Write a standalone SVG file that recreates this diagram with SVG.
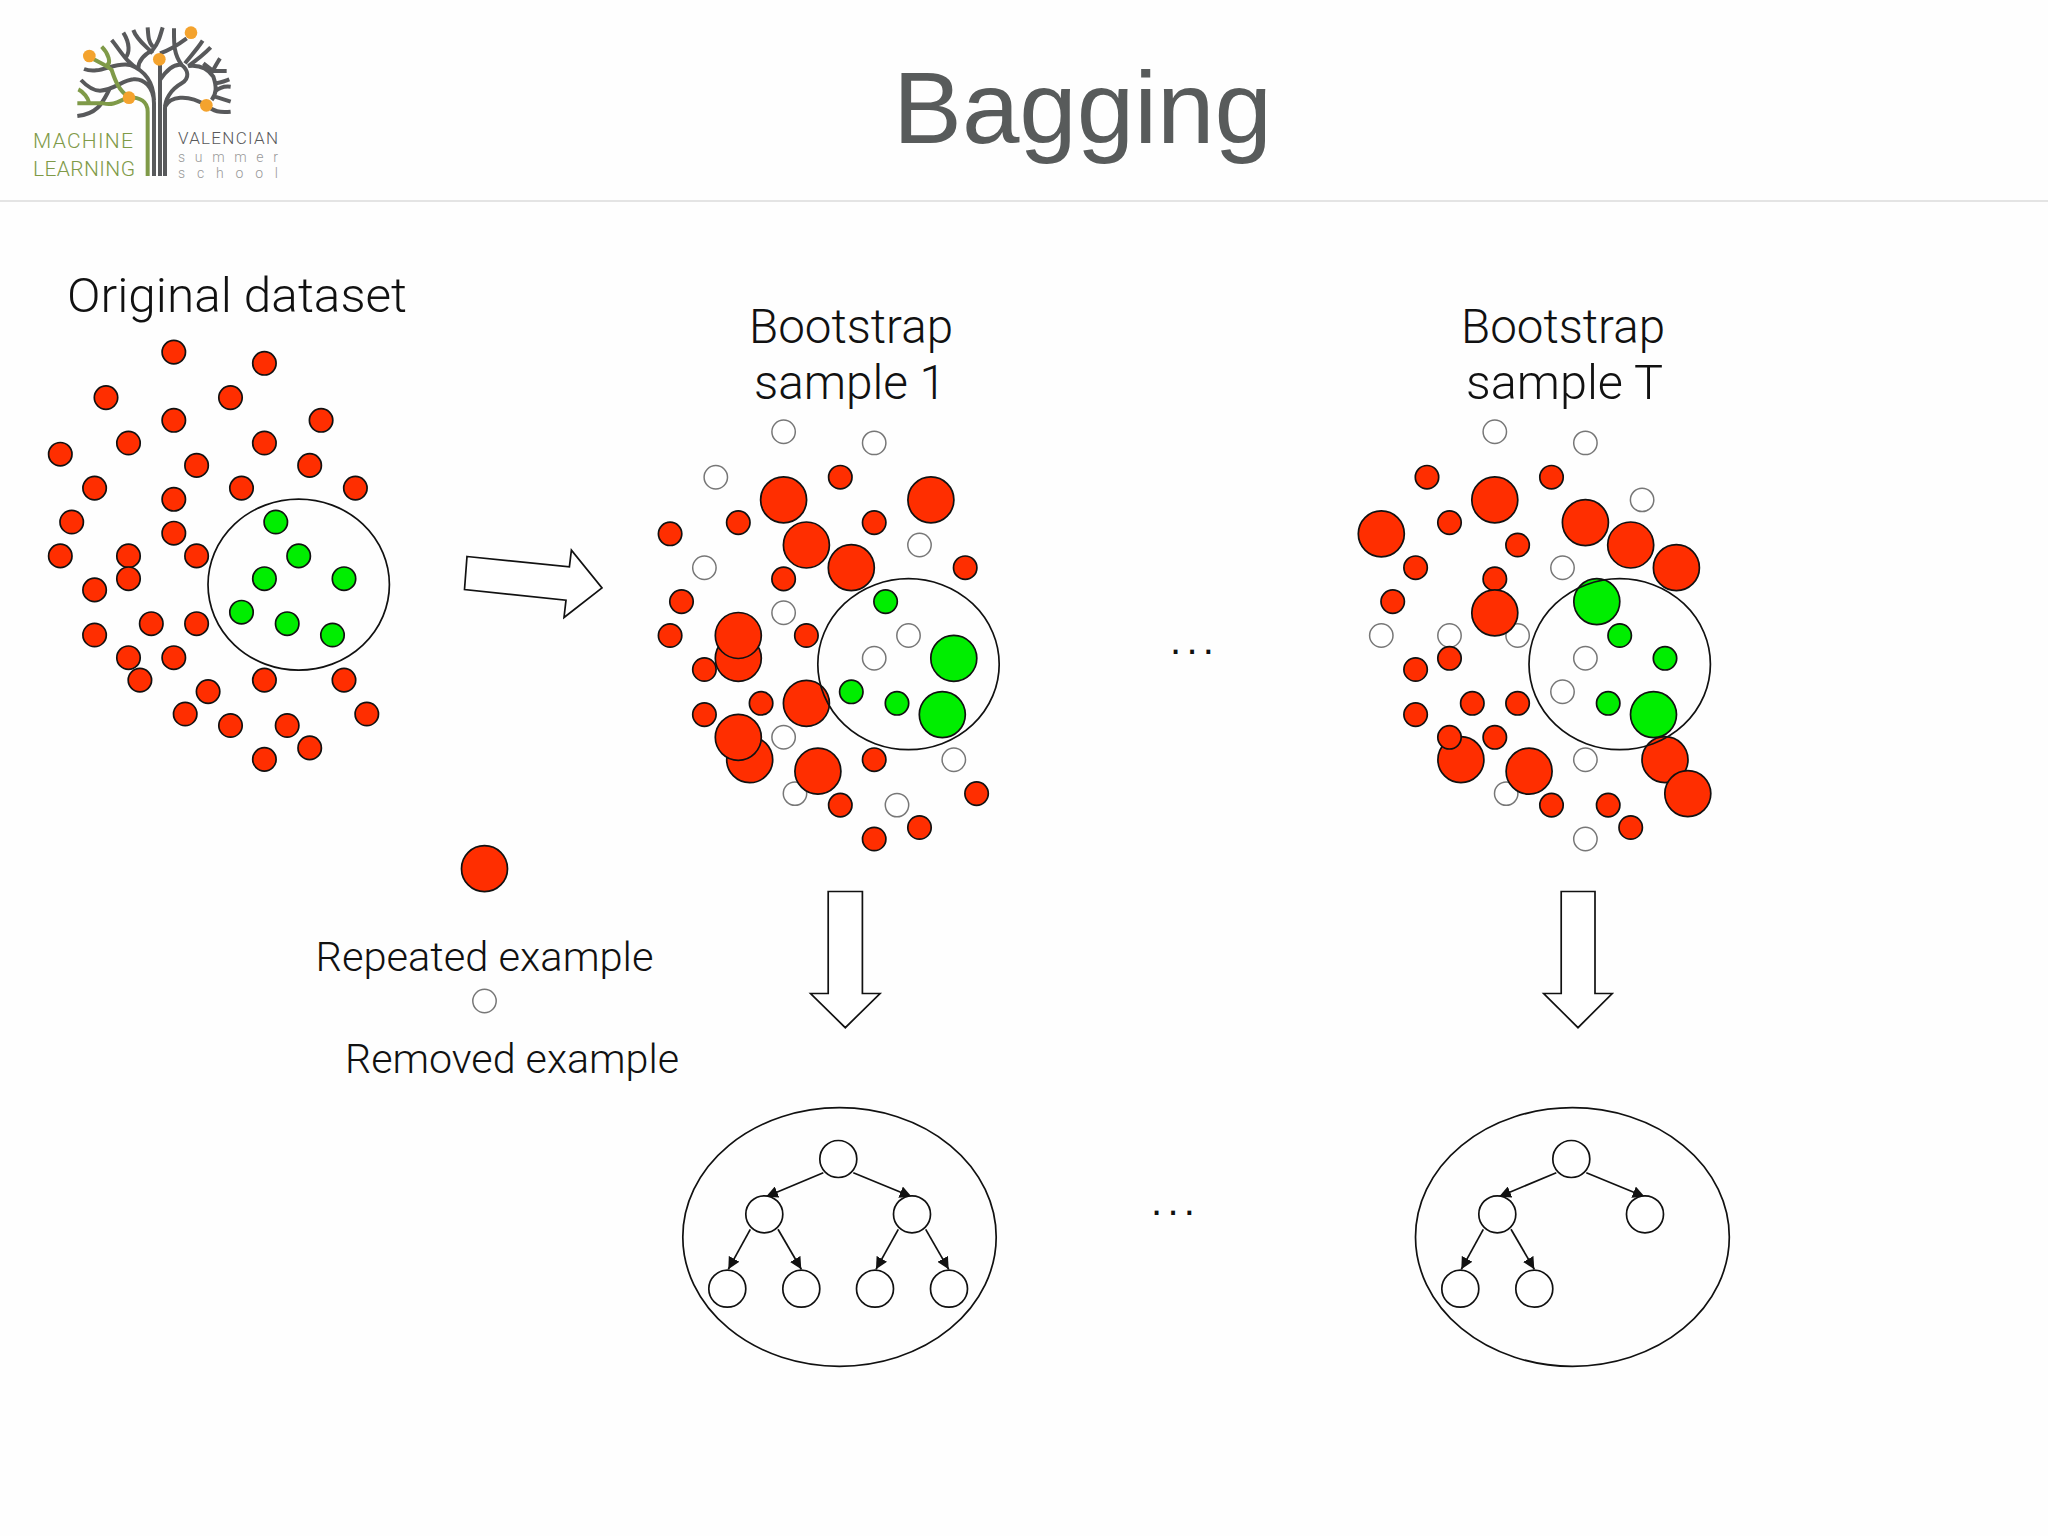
<svg xmlns="http://www.w3.org/2000/svg" width="2048" height="1536" viewBox="0 0 2048 1536">
<style>
text{font-family:"Roboto","Liberation Sans",sans-serif;font-weight:300;fill:#111}
.s{fill:#ff2e00;stroke:#111;stroke-width:1.7}
.g{fill:#00ee00;stroke:#111;stroke-width:1.7}
.w{fill:#fff;stroke:#777;stroke-width:1.5}
.ring{fill:none;stroke:#111;stroke-width:1.7}
.arrow{fill:#fff;stroke:#111;stroke-width:1.7;stroke-linejoin:miter}
.n{fill:#fff;stroke:#111;stroke-width:1.7}
.e{stroke:#111;stroke-width:1.7;fill:none;marker-end:url(#ah)}
.lb{fill:none;stroke:#58595b;stroke-width:12}
.lg{fill:none;stroke:#7f9a48;stroke-width:12}
.lo{fill:#f4a32e}
.big{font-size:48px}
.mid{font-size:40px}
.dots{font-family:"Liberation Sans",sans-serif;font-weight:400;font-size:40px;letter-spacing:5.3px}
</style>
<defs>
<marker id="ah" markerUnits="userSpaceOnUse" markerWidth="13" markerHeight="12" refX="12" refY="6" orient="auto"><path d="M0,0L12,6L0,12Z" fill="#111"/></marker>
</defs>
<rect width="2048" height="1536" fill="#fefefe"/>
<g id="logo">
<g transform="scale(.33333)">
<path class="lb" d="M462,528V310C462,260 430,235 400,238C370,240 340,270 300,272C280,272 260,258 243,240M330,265C310,300 300,340 232,348M462,300C460,240 430,210 390,195C340,185 300,225 252,207M335,120C360,150 380,190 420,210M370,98C390,130 390,160 375,175"/>
<path class="lb" d="M480,528V195M495,528V325C495,300 510,270 545,250C570,235 565,210 545,195C520,190 500,210 480,240M400,90C410,120 440,140 458,160M443,82C445,110 445,125 458,140M488,82C480,110 475,130 458,150C430,165 415,185 415,205M522,85C522,130 520,160 545,195M480,160C510,150 540,130 560,115"/>
<path class="lb" d="M608,122C590,150 570,170 555,190M632,142C610,165 590,180 565,198C590,195 620,200 640,230C650,260 650,280 635,300M660,175C650,190 640,210 630,225M610,190L640,213H680M640,250C660,250 670,245 688,238M645,275C660,260 675,258 692,260M645,290L692,305M495,320C510,290 560,280 619,316C640,335 660,338 692,335"/>
<path class="lg" d="M443,528V335C443,305 420,292 387,292C360,300 345,318 310,310H232M235,268C250,275 265,295 268,310M268,170C290,185 320,195 335,210C345,240 355,270 387,292M305,140C325,160 335,190 320,195"/>
<circle class="lo" cx="268" cy="168" r="19"/><circle class="lo" cx="478" cy="178" r="19"/><circle class="lo" cx="573" cy="98" r="19"/><circle class="lo" cx="387" cy="293" r="19"/><circle class="lo" cx="619" cy="316" r="19"/>
</g>
<text x="33" y="148" font-size="21" textLength="100" style="fill:#7f9a48">MACHINE</text>
<text x="33" y="176" font-size="21" textLength="102" style="fill:#7f9a48">LEARNING</text>
<text x="178" y="144" font-size="17" textLength="100" style="fill:#58595b">VALENCIAN</text>
<text x="178" y="161.500" font-size="14" textLength="100" style="fill:#999">summer</text>
<text x="178" y="177.500" font-size="14" textLength="100" style="fill:#999">school</text>
</g>
<rect id="header-rule" x="0" y="200" width="2048" height="2" fill="#e4e4e4"/>
<text id="title" x="893" y="143" font-size="102" textLength="379" lengthAdjust="spacingAndGlyphs" style="font-family:'Liberation Sans',sans-serif;font-weight:400;fill:#585b5b">Bagging</text>
<text id="label-original" class="big" x="67" y="312" textLength="340" lengthAdjust="spacingAndGlyphs">Original dataset</text>
<g id="label-sample-1" class="big"><text x="749" y="343" textLength="204" lengthAdjust="spacingAndGlyphs">Bootstrap</text><text x="754" y="399" textLength="192" lengthAdjust="spacingAndGlyphs">sample 1</text></g>
<g id="label-sample-t" class="big"><text x="1461" y="343" textLength="204" lengthAdjust="spacingAndGlyphs">Bootstrap</text><text x="1466" y="399" textLength="197" lengthAdjust="spacingAndGlyphs">sample T</text></g>

<g id="original-dataset" transform="translate(.3 .7)">
<circle class="s" cx="173.5" cy="351.4" r="11.7"/><circle class="s" cx="264.1" cy="362.6" r="11.7"/><circle class="s" cx="105.7" cy="396.9" r="11.7"/><circle class="s" cx="230.2" cy="396.9" r="11.7"/><circle class="s" cx="173.5" cy="419.6" r="11.7"/><circle class="s" cx="320.8" cy="419.6" r="11.7"/><circle class="s" cx="128.2" cy="442.3" r="11.7"/><circle class="s" cx="264.1" cy="442.3" r="11.7"/><circle class="s" cx="60" cy="453.5" r="11.7"/><circle class="s" cx="196.3" cy="464.7" r="11.7"/><circle class="s" cx="309.4" cy="464.7" r="11.7"/><circle class="s" cx="94.3" cy="487.4" r="11.7"/><circle class="s" cx="241.2" cy="487.4" r="11.7"/><circle class="s" cx="355.1" cy="487.4" r="11.7"/><circle class="s" cx="173.5" cy="498.6" r="11.7"/><circle class="s" cx="71.4" cy="521.3" r="11.7"/><circle class="s" cx="173.5" cy="532.5" r="11.7"/><circle class="s" cx="60" cy="555.2" r="11.7"/><circle class="s" cx="128.2" cy="555.2" r="11.7"/><circle class="s" cx="196.3" cy="555.2" r="11.7"/><circle class="s" cx="128.2" cy="578" r="11.7"/><circle class="s" cx="94.3" cy="589.2" r="11.7"/><circle class="s" cx="151" cy="623" r="11.7"/><circle class="s" cx="196.3" cy="623" r="11.7"/><circle class="s" cx="94.3" cy="634.3" r="11.7"/><circle class="s" cx="128.2" cy="657" r="11.7"/><circle class="s" cx="173.5" cy="657" r="11.7"/><circle class="s" cx="139.6" cy="679.4" r="11.7"/><circle class="s" cx="264.1" cy="679.4" r="11.7"/><circle class="s" cx="343.7" cy="679.4" r="11.7"/><circle class="s" cx="207.8" cy="690.9" r="11.7"/><circle class="s" cx="184.9" cy="713.3" r="11.7"/><circle class="s" cx="366.5" cy="713.3" r="11.7"/><circle class="s" cx="230.2" cy="724.8" r="11.7"/><circle class="s" cx="286.9" cy="724.8" r="11.7"/><circle class="s" cx="309.4" cy="747.2" r="11.7"/><circle class="s" cx="264.1" cy="758.7" r="11.7"/>
<circle class="g" cx="275.5" cy="521.3" r="11.7"/><circle class="g" cx="298.4" cy="555.2" r="11.7"/><circle class="g" cx="264.1" cy="578" r="11.7"/><circle class="g" cx="343.7" cy="578" r="11.7"/><circle class="g" cx="241.2" cy="611.5" r="11.7"/><circle class="g" cx="286.9" cy="623" r="11.7"/><circle class="g" cx="332.2" cy="634.3" r="11.7"/>
<ellipse class="ring" cx="298.4" cy="583.9" rx="90.7" ry="85.5"/>
</g>

<g id="bootstrap-sample-1" transform="translate(.5 .7)">
<circle class="w" cx="783.1" cy="431" r="11.7"/><circle class="w" cx="873.7" cy="442.2" r="11.7"/><circle class="w" cx="715.3" cy="476.5" r="11.7"/><circle class="w" cx="919" cy="544.3" r="11.7"/><circle class="w" cx="703.9" cy="567" r="11.7"/><circle class="w" cx="783.1" cy="612.1" r="11.7"/><circle class="w" cx="908" cy="634.8" r="11.7"/><circle class="w" cx="873.7" cy="657.6" r="11.7"/><circle class="w" cx="783.1" cy="736.6" r="11.7"/><circle class="w" cx="953.3" cy="759" r="11.7"/><circle class="w" cx="794.5" cy="792.9" r="11.7"/><circle class="w" cx="896.5" cy="804.4" r="11.7"/>
<circle class="s" cx="839.8" cy="476.5" r="11.7"/><circle class="s" cx="737.8" cy="521.9" r="11.7"/><circle class="s" cx="873.7" cy="521.9" r="11.7"/><circle class="s" cx="669.6" cy="533.1" r="11.7"/><circle class="s" cx="964.7" cy="567" r="11.7"/><circle class="s" cx="783.1" cy="578.2" r="11.7"/><circle class="s" cx="681" cy="600.9" r="11.7"/><circle class="s" cx="669.6" cy="634.8" r="11.7"/><circle class="s" cx="805.9" cy="634.8" r="11.7"/><circle class="s" cx="703.9" cy="668.8" r="11.7"/><circle class="s" cx="760.6" cy="702.6" r="11.7"/><circle class="s" cx="703.9" cy="713.9" r="11.7"/><circle class="s" cx="873.7" cy="759" r="11.7"/><circle class="s" cx="976.1" cy="792.9" r="11.7"/><circle class="s" cx="839.8" cy="804.4" r="11.7"/><circle class="s" cx="919" cy="826.8" r="11.7"/><circle class="s" cx="873.7" cy="838.3" r="11.7"/>
<circle class="s" cx="783.1" cy="499.2" r="23"/><circle class="s" cx="930.4" cy="499.2" r="23"/><circle class="s" cx="805.9" cy="544.3" r="23"/><circle class="s" cx="850.8" cy="567" r="23"/><circle class="s" cx="737.8" cy="657.6" r="23"/><circle class="s" cx="737.8" cy="634.8" r="23"/><circle class="s" cx="805.9" cy="702.6" r="23"/><circle class="s" cx="749.2" cy="759" r="23"/><circle class="s" cx="737.8" cy="736.6" r="23"/><circle class="s" cx="817.4" cy="770.5" r="23"/>
<circle class="g" cx="885.1" cy="600.9" r="11.7"/><circle class="g" cx="850.8" cy="691.1" r="11.7"/><circle class="g" cx="896.5" cy="702.6" r="11.7"/><circle class="g" cx="953.3" cy="657.6" r="23"/><circle class="g" cx="941.8" cy="713.9" r="23"/>
<ellipse class="ring" cx="908" cy="663.5" rx="90.7" ry="85.5"/>
</g>

<g id="bootstrap-sample-t" transform="translate(.3 .7)">
<circle class="w" cx="1494.5" cy="431" r="11.7"/><circle class="w" cx="1585.1" cy="442.2" r="11.7"/><circle class="w" cx="1641.8" cy="499.2" r="11.7"/><circle class="w" cx="1562.2" cy="567" r="11.7"/><circle class="w" cx="1381" cy="634.8" r="11.7"/><circle class="w" cx="1449.2" cy="634.8" r="11.7"/><circle class="w" cx="1517.3" cy="634.8" r="11.7"/><circle class="w" cx="1585.1" cy="657.6" r="11.7"/><circle class="w" cx="1562.2" cy="691.1" r="11.7"/><circle class="w" cx="1585.1" cy="759" r="11.7"/><circle class="w" cx="1505.9" cy="792.9" r="11.7"/><circle class="w" cx="1585.1" cy="838.3" r="11.7"/>
<circle class="s" cx="1426.7" cy="476.5" r="11.7"/><circle class="s" cx="1551.2" cy="476.5" r="11.7"/><circle class="s" cx="1449.2" cy="521.9" r="11.7"/><circle class="s" cx="1517.3" cy="544.3" r="11.7"/><circle class="s" cx="1415.3" cy="567" r="11.7"/><circle class="s" cx="1494.5" cy="578.2" r="11.7"/><circle class="s" cx="1392.4" cy="600.9" r="11.7"/><circle class="s" cx="1449.2" cy="657.6" r="11.7"/><circle class="s" cx="1415.3" cy="668.8" r="11.7"/><circle class="s" cx="1472" cy="702.6" r="11.7"/><circle class="s" cx="1517.3" cy="702.6" r="11.7"/><circle class="s" cx="1415.3" cy="713.9" r="11.7"/><circle class="s" cx="1494.5" cy="736.6" r="11.7"/><circle class="s" cx="1551.2" cy="804.4" r="11.7"/><circle class="s" cx="1607.9" cy="804.4" r="11.7"/><circle class="s" cx="1630.4" cy="826.8" r="11.7"/>
<circle class="s" cx="1494.5" cy="499.2" r="23"/><circle class="s" cx="1585.1" cy="521.9" r="23"/><circle class="s" cx="1381" cy="533.1" r="23"/><circle class="s" cx="1630.4" cy="544.3" r="23"/><circle class="s" cx="1676.1" cy="567" r="23"/><circle class="s" cx="1494.5" cy="612.1" r="23"/><circle class="s" cx="1460.6" cy="759" r="23"/><circle class="s" cx="1449.2" cy="736.6" r="11.7"/><circle class="s" cx="1664.7" cy="759" r="23"/><circle class="s" cx="1528.8" cy="770.5" r="23"/><circle class="s" cx="1687.5" cy="792.9" r="23"/>
<circle class="g" cx="1619.4" cy="634.8" r="11.7"/><circle class="g" cx="1664.7" cy="657.6" r="11.7"/><circle class="g" cx="1607.9" cy="702.6" r="11.7"/><circle class="g" cx="1596.5" cy="600.9" r="23"/><circle class="g" cx="1653.2" cy="713.9" r="23"/>
<ellipse class="ring" cx="1619.4" cy="663.5" rx="90.7" ry="85.5"/>
</g>

<g id="arrows">
<path class="arrow" d="M467,556.500L569.4,566.900L571.4,550.200L602,587.900L564,617.500L566,600.200L464.500,589.500Z"/>
<path class="arrow" d="M828.200,891.500H862.400V993.500H880L845.300,1027.700L810.600,993.500H828.200Z"/>
<path class="arrow" d="M1561.200,891.500H1595V993.500H1612.200L1578,1027.700L1543.700,993.500H1561.200Z"/>
</g>

<g id="legend">
<circle class="s" cx="484.500" cy="868.700" r="23"/>
<text class="mid" x="315.500" y="971" textLength="338" lengthAdjust="spacingAndGlyphs">Repeated example</text>
<circle class="w" cx="484.500" cy="1001" r="11.7"/>
<text class="mid" x="345" y="1072.500" textLength="334" lengthAdjust="spacingAndGlyphs">Removed example</text>
</g>

<text id="ellipsis-top" class="dots" x="1170" y="654">...</text>
<text id="ellipsis-bottom" class="dots" x="1151" y="1215">...</text>

<ellipse id="tree-1-boundary" class="ring" cx="839.5" cy="1237" rx="156.7" ry="129.3"/>
<ellipse id="tree-t-boundary" class="ring" cx="1572.4" cy="1237" rx="156.9" ry="129.3"/>
<g id="connectors">
<path class="e" d="M823.3,1172.7L766,1196.7"/><path class="e" d="M853.3,1172.7L911.7,1196.7"/><path class="e" d="M750.3,1229.3L728.3,1269.3"/><path class="e" d="M778,1229.3L801.3,1269.3"/><path class="e" d="M898.3,1229.3L876,1269.3"/><path class="e" d="M925.7,1229.3L948.7,1269.3"/>
<path class="e" d="M1556.300,1172.7L1499,1196.7"/><path class="e" d="M1586.300,1172.7L1644.700,1196.7"/><path class="e" d="M1483.300,1229.3L1461.300,1269.3"/><path class="e" d="M1511,1229.3L1534.300,1269.3"/>
</g>
<g id="t1-root"><circle class="n" cx="838.3" cy="1159" r="18.5"/></g>
<g id="t1-l"><circle class="n" cx="764.3" cy="1214.3" r="18.5"/></g>
<g id="t1-r"><circle class="n" cx="912" cy="1214.3" r="18.5"/></g>
<g id="t1-ll"><circle class="n" cx="727.3" cy="1288.7" r="18.5"/></g>
<g id="t1-lr"><circle class="n" cx="801.3" cy="1288.7" r="18.5"/></g>
<g id="t1-rl"><circle class="n" cx="875" cy="1288.7" r="18.5"/></g>
<g id="t1-rr"><circle class="n" cx="949" cy="1288.7" r="18.5"/></g>
<g id="tt-root"><circle class="n" cx="1571.3" cy="1159" r="18.5"/></g>
<g id="tt-l"><circle class="n" cx="1497.3" cy="1214.3" r="18.5"/></g>
<g id="tt-r"><circle class="n" cx="1645" cy="1214.3" r="18.5"/></g>
<g id="tt-ll"><circle class="n" cx="1460.3" cy="1288.7" r="18.5"/></g>
<g id="tt-lr"><circle class="n" cx="1534.3" cy="1288.7" r="18.5"/></g>
</svg>
